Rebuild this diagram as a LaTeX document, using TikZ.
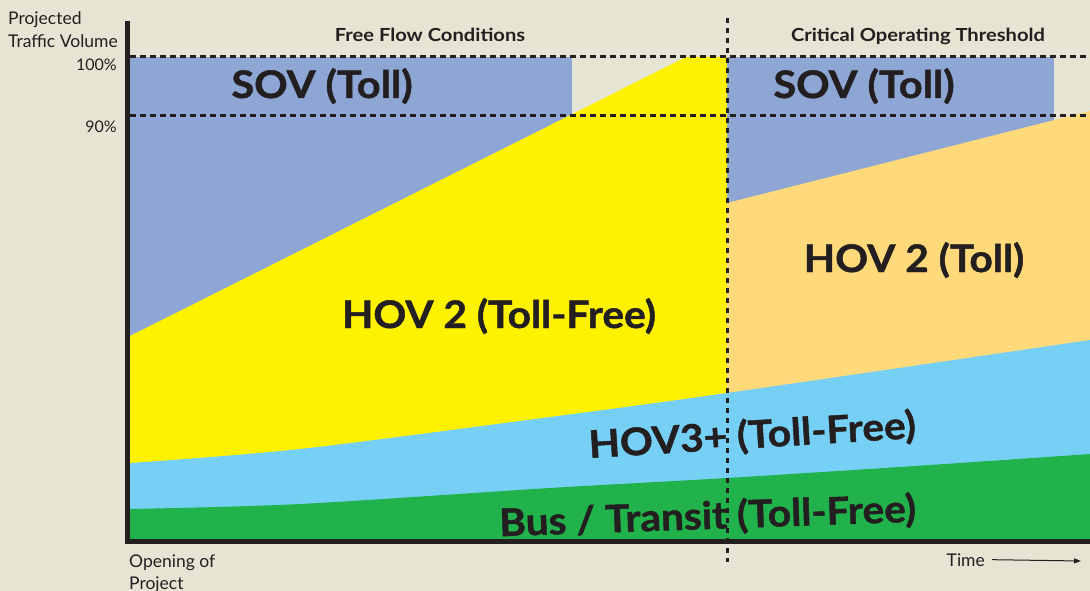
\documentclass[tikz,border=0pt]{standalone}
\usepackage{fontspec}
\setmainfont{Lato}
% slightly heavier bold face for the lane labels
\newfontfamily\heavyfont{Lato}[BoldFeatures={FakeBold=1.2}]
\usetikzlibrary{arrows.meta}

\definecolor{bg}{RGB}{230,228,210}
\definecolor{sov}{RGB}{141,166,212}
\definecolor{hovfree}{RGB}{255,242,0}
\definecolor{hovtoll}{RGB}{255,217,122}
\definecolor{hovthree}{RGB}{118,208,245}
\definecolor{bus}{RGB}{34,178,76}
\definecolor{ink}{RGB}{35,31,32}

% widen lettering horizontally
\newcommand\stretchx[2]{\scalebox{#1}[1]{#2}}

\begin{document}
\begin{tikzpicture}[x=1pt,y=-1pt,
  lbl/.style={font=\fontsize{38}{40}\heavyfont\bfseries, text=ink, inner sep=0pt},
  head/.style={font=\fontsize{18}{21}\selectfont\bfseries, text=ink, inner sep=0pt},
  small/.style={font=\fontsize{17.5}{20}\selectfont, text=ink, inner sep=0pt},
  pct/.style={font=\fontsize{16}{19}\selectfont, text=ink, inner sep=0pt},
  hguide/.style={draw=ink, line width=3pt, dash pattern=on 6pt off 4pt},
  vguide/.style={draw=ink, line width=3pt, dash pattern=on 5pt off 5pt},
  axis/.style={draw=ink, line width=4.5pt}]

\useasboundingbox (0,0) rectangle (1090,591);
\fill[bg] (0,0) rectangle (1090,591);

% SOV blocks (partly covered by the HOV 2 areas)
\fill[sov] (130,57) rectangle (572,340);
\fill[sov] (727,57) rectangle (1054,210);

% HOV 2 toll-free (left) and tolled (right)
\fill[hovfree] (130,336) -- (686,57) -- (727,57) -- (727,539) -- (130,539) -- cycle;
\fill[hovtoll] (727,203) -- (1090,111) -- (1090,539) -- (727,539) -- cycle;

% HOV3+ band
\fill[hovthree] plot[smooth] coordinates {(130,463) (300,449) (550,417) (727,393) (1090,340)}
  -- (1090,539) -- (130,539) -- cycle;

% Bus / transit band
\fill[bus] plot[smooth] coordinates {(130,509) (300,504) (550,488) (727,478) (930,465) (1090,454)}
  -- (1090,539) -- (130,539) -- cycle;

% threshold guides
\draw[hguide] (130,57) -- (1090,57);
\draw[hguide] (130,116) -- (1090,116);
\draw[vguide] (727,18) -- (727,562);

% axes
\draw[axis] (127.5,21) -- (127.5,543.5);
\draw[axis] (125.25,541.5) -- (1090,541.5);

% axis texts
\node[small, anchor=base west] (ylab1) at (8,25) {Projected};
\node[small, anchor=base west] (ylab2) at (8,47.5) {Traffic Volume};
\node[pct, anchor=base east] (p100) at (117,71) {100\%};
\node[pct, anchor=base east] (p90) at (117,133) {90\%};
\node[small, anchor=base west] (xlab1) at (129,567) {Opening of};
\node[small, anchor=base west] (xlab2) at (129,589) {Project};
\node[small, anchor=base east] (time) at (985,566) {Time};
\coordinate (tend) at (1081,561);
\draw[ink, line width=1pt, -{Triangle[length=7pt,width=5pt]}] ([xshift=7pt]time.east) -- (tend);

% phase headings
\node[head, anchor=base] (free) at (430,42) {\stretchx{1.12}{Free Flow Conditions}};
\node[head, anchor=base] (crit) at (918,42) {\stretchx{1.12}{Critical Operating Threshold}};

% lane group labels
\node[lbl, anchor=base] (sovA) at (322,98) {\stretchx{1.09}{SOV (Toll)}};
\node[lbl, anchor=base] (sovB) at (864,98) {\stretchx{1.09}{SOV (Toll)}};
\node[lbl, anchor=base] (hovA) at (499,328) {\stretchx{1.07}{HOV 2 (Toll-Free)}};
\node[lbl, anchor=base] (hovB) at (914,272) {\stretchx{1.07}{HOV 2 (Toll)}};
\node[lbl, anchor=base, rotate=3.5] (hov3) at (753,448) {\stretchx{1.07}{HOV3+ (Toll-Free)}};
\node[lbl, anchor=base, rotate=2] (busl) at (708,529) {\stretchx{1.07}{Bus / Transit (Toll-Free)}};
\end{tikzpicture}
\end{document}
